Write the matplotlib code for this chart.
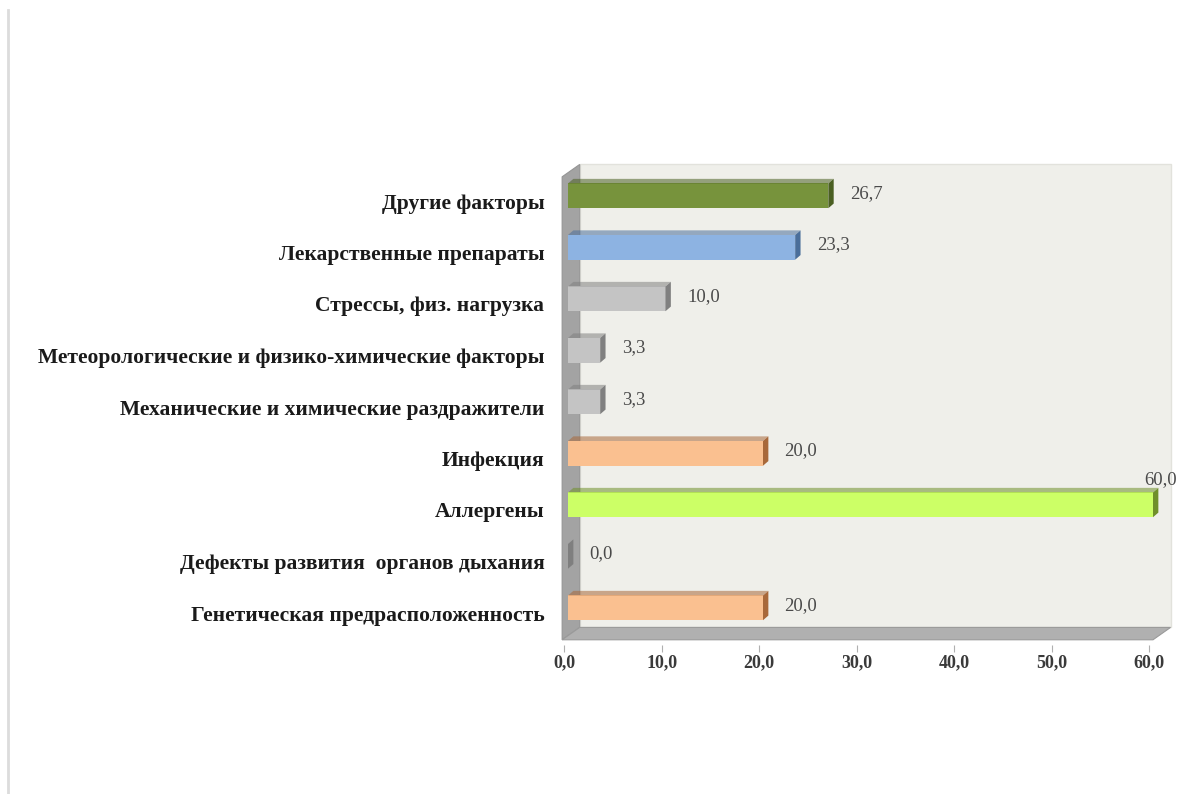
import matplotlib
matplotlib.use("Agg")
import matplotlib.pyplot as plt
from matplotlib.patches import Polygon, Rectangle
from matplotlib.lines import Line2D

# data, bottom to top as drawn
categories = [
    "Генетическая предрасположенность",
    "Дефекты развития  органов дыхания",
    "Аллергены",
    "Инфекция",
    "Механические и химические раздражители",
    "Метеорологические и физико-химические факторы",
    "Стрессы, физ. нагрузка",
    "Лекарственные препараты",
    "Другие факторы",
]
values = [20.0, 0.0, 60.0, 20.0, 3.3, 3.3, 10.0, 23.3, 26.7]
face_colors = ["#fac090", "#bfbfbf", "#ccff66", "#fac090", "#c4c4c4",
               "#c4c4c4", "#c4c4c4", "#8db3e2", "#77933c"]
side_colors = ["#a8683a", "#7f7f7f", "#6f8f2a", "#a8683a", "#808080",
               "#808080", "#808080", "#4a6e9a", "#4a5f22"]
x_ticks = [0, 10, 20, 30, 40, 50, 60]

SERIF = "Liberation Serif"

# pixel mapping of the chart box
X0_PX, XS = 568, 9.75    # pixel of value 0, pixels per unit
Y0_PX, YS = 613, 51.5    # pixel of first category, pixels per category
W, H = 1198, 794
ax_l, ax_r, ax_t, ax_b = 550, 1180, 150, 645

fig = plt.figure(figsize=(W / 100, H / 100), dpi=100)
fig.patch.set_facecolor("white")
ax = fig.add_axes([ax_l / W, 1 - ax_b / H, (ax_r - ax_l) / W, (ax_b - ax_t) / H])
ax.set_xlim((ax_l - X0_PX) / XS, (ax_r - X0_PX) / XS)
ax.set_ylim((Y0_PX - ax_b) / YS, (Y0_PX - ax_t) / YS)
ax.patch.set_alpha(0)
for s in ax.spines.values():
    s.set_visible(False)

# 3d box: back panel, left wall, floor
dx, dy = 1.8, 0.24
fx0, fx1 = -0.6, 60.0
fy0, top = -0.52, 8.47
ax.add_patch(Rectangle((fx0 + dx, fy0 + dy), fx1 - fx0, top - fy0,
                       facecolor="#efefea", edgecolor="#e2e2dc", lw=1, zorder=0))
ax.add_patch(Polygon([(fx0, fy0), (fx0, top), (fx0 + dx, top + dy), (fx0 + dx, fy0 + dy)],
                     closed=True, facecolor="#a3a3a3", edgecolor="#959595", lw=0.8, zorder=1))
ax.add_patch(Polygon([(fx0, fy0), (fx1, fy0), (fx1 + dx, fy0 + dy), (fx0 + dx, fy0 + dy)],
                     closed=True, facecolor="#b0b0b0", edgecolor="#9a9a9a", lw=0.8, zorder=1))

# bars with a small side and top face
pos = list(range(len(categories)))
bar_shift = 0.1
bar_h = 0.48
bdx, bdy = 0.55, 0.09
centers = [p + bar_shift for p in pos]
ax.barh(centers, values, height=bar_h, color=face_colors, zorder=3,
        edgecolor="none")
for c, v, fc, sc in zip(centers, values, face_colors, side_colors):
    y0, y1 = c - bar_h / 2, c + bar_h / 2
    ax.add_patch(Polygon([(v, y0), (v, y1), (v + bdx, y1 + bdy), (v + bdx, y0 + bdy)],
                         closed=True, facecolor=sc, edgecolor="none", zorder=4))
    if v > 0:
        ax.add_patch(Polygon([(0, y1), (v, y1), (v + bdx, y1 + bdy), (bdx, y1 + bdy)],
                             closed=True, facecolor=sc, alpha=0.55,
                             edgecolor="none", zorder=4))
    label = f"{v:.1f}".replace(".", ",")
    if v >= 60:
        ax.text(v + 0.8, c + 0.5, label, ha="center", va="center",
                fontsize=13.5, family=SERIF, color="#4a4a4a", zorder=5)
    else:
        ax.text(v + 2.2, c + 0.05, label, ha="left", va="center",
                fontsize=13.5, family=SERIF, color="#4a4a4a", zorder=5)

ax.set_yticks(pos)
ax.set_yticklabels(categories, fontsize=15.5, fontweight="bold",
                   family=SERIF, color="#1a1a1a")
ax.tick_params(axis="y", length=0, pad=4)

ax.set_xticks([t - 0.4 for t in x_ticks])
ax.set_xticklabels([f"{t:.1f}".replace(".", ",") for t in x_ticks],
                   fontsize=13, fontweight="bold", family=SERIF, color="#3a3a3a")
ax.tick_params(axis="x", length=5, width=0.8, color="#b0b0b0", pad=2)

# faint scan edge on the left
fig.add_artist(Line2D([8 / W, 8 / W], [0, 1 - 10 / H], color="#dcdcdc", lw=2))

fig.savefig("out.png", dpi=100, facecolor="white")
